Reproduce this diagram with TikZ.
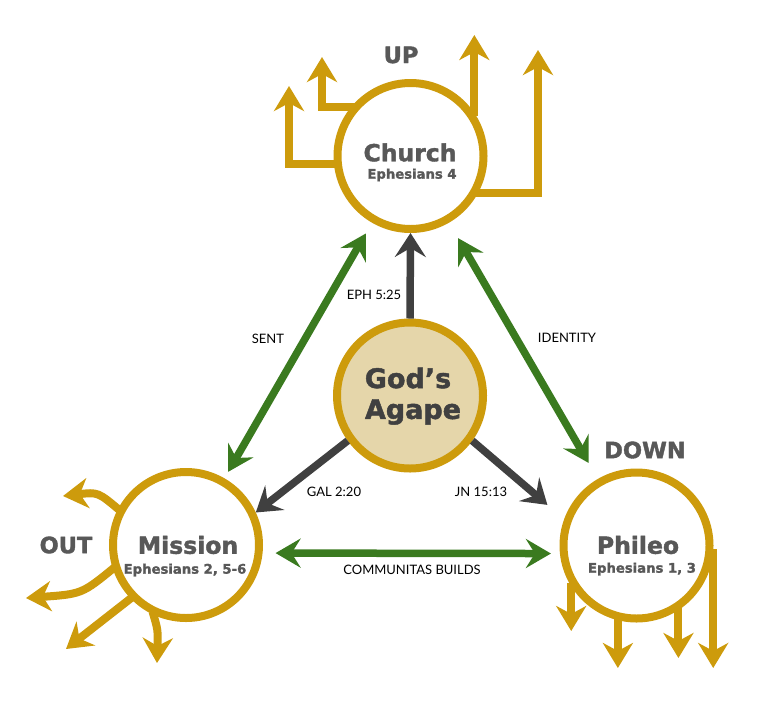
\documentclass[tikz,border=0pt]{standalone}
\usepackage{fontspec}
\usetikzlibrary{arrows.meta}
\newfontfamily\headfont{DejaVu Sans Bold}[FakeBold=1.6]
\newfontfamily\labelfont{Lato}
\definecolor{gold}{RGB}{205,155,12}
\definecolor{tan}{RGB}{229,214,170}
\definecolor{leaf}{RGB}{58,122,31}
\definecolor{slate}{RGB}{64,64,64}
\definecolor{greytext}{RGB}{88,88,88}
\tikzset{
  ring/.style={circle, draw=gold, line width=8pt, fill=white, minimum size=146pt, inner sep=0pt},
  goldarrow/.style={draw=gold, line width=8pt, shorten <=-3pt, -{Stealth[length=25pt,width=30pt,inset=8pt]}},
  darkarrow/.style={draw=slate, line width=7.5pt, -{Stealth[length=24pt,width=31pt,inset=9pt]}},
  greenarrow/.style={draw=leaf, line width=7.5pt, {Stealth[length=25pt,width=29pt,inset=9pt]}-{Stealth[length=25pt,width=29pt,inset=9pt]}},
  bigname/.style={inner sep=0pt, text=greytext, font=\headfont\fontsize{23.5}{26}\selectfont},
  verse/.style={inner sep=0pt, text=greytext, font=\headfont\fontsize{13.2}{15}\selectfont},
  direction/.style={inner sep=0pt, text=greytext, font=\headfont\fontsize{22.5}{25}\selectfont},
  edgelabel/.style={inner sep=0pt, text=black, font=\labelfont\fontsize{13}{15}\selectfont}
}
\begin{document}
\begin{tikzpicture}[x=1pt,y=1pt,yscale=-1]
\useasboundingbox (0,0) rectangle (773,713);

% circles
\node[ring] (church) at (410.5,156) {};
\node[ring, fill=tan] (agape) at (410,395.5) {};
\node[ring] (mission) at (186,545) {};
\node[ring] (phileo) at (636.5,545.5) {};

% up
\coordinate (up1) at (289,86);
\coordinate (up2) at (322,57);
\coordinate (up3) at (474,35);
\coordinate (up4) at (538,50);
\draw[goldarrow] (church.186) -| (up1);
\draw[goldarrow] (church.140) -| (up2);
\draw[goldarrow] (church.34) -- (church.34 |- up3);
\draw[goldarrow] (church.-29) -| (up4);

% out
\coordinate (out1) at (63,496);
\coordinate (out2) at (26,598);
\coordinate (out3) at (66,649);
\coordinate (out4) at (157,663);
\draw[goldarrow] (mission.152) .. controls (98,492) .. (out1);
\draw[goldarrow] (mission.198) .. controls (82,594) .. (out2);
\draw[goldarrow] (mission.224) -- (out3);
\draw[goldarrow] (mission.245) .. controls (158,630) .. (out4);

% down
\coordinate (dn1) at (571,631);
\coordinate (dn2) at (618,668);
\coordinate (dn3) at (678,658);
\coordinate (dn4) at (712,668);
\draw[goldarrow] (phileo.212) -- (phileo.212 |- dn1);
\draw[goldarrow] (phileo.256) -- (phileo.256 |- dn2);
\draw[goldarrow] (phileo.303) -- (phileo.303 |- dn3);
\draw[goldarrow] (phileo.-5) -- (phileo.-5 |- dn4);

% love flows out of the centre
\draw[darkarrow] (agape.north) -- (church.south);
\draw[darkarrow] (agape.216) -- (mission.25);
\draw[darkarrow, shorten >=22pt] (agape.324) -- (phileo.160);

% links between the three
\draw[greenarrow, shorten <=7.5pt, shorten >=12.5pt] (mission) -- (church);
\draw[greenarrow, shorten <=18pt, shorten >=18.5pt] (church) -- (phileo);
\draw[greenarrow, shorten <=13pt, shorten >=9pt] (mission.-6) -- (phileo.186);

% texts
\node[bigname] (churchname) at (410,152.5) {Church};
\node[verse] (churchverse) at (412,175) {Ephesians 4};
\node[bigname, text=slate, font=\headfont\fontsize{27}{29}\selectfont] (godname) at (408,378) {God’s};
\node[bigname, text=slate, font=\headfont\fontsize{27}{29}\selectfont] (agapename) at (413,412) {Agape};
\node[bigname] (missionname) at (188,545) {Mission};
\node[verse] (missionverse) at (185,570) {Ephesians 2, 5-6};
\node[bigname] (phileoname) at (638,545) {Phileo};
\node[verse] (phileoverse) at (642,569) {Ephesians 1, 3};

\node[direction] (uplabel) at (401,55) {UP};
\node[direction] (outlabel) at (66,545) {OUT};
\node[direction] (downlabel) at (645,450) {DOWN};

\node[edgelabel] (ephlabel) at (374,295) {EPH 5:25};
\node[edgelabel] (sentlabel) at (268,339) {SENT};
\node[edgelabel] (identitylabel) at (567,338) {IDENTITY};
\node[edgelabel] (gallabel) at (334,492) {GAL 2:20};
\node[edgelabel] (jnlabel) at (481,492) {JN 15:13};
\node[edgelabel] (communitaslabel) at (412,570) {COMMUNITAS BUILDS};
\end{tikzpicture}
\end{document}
